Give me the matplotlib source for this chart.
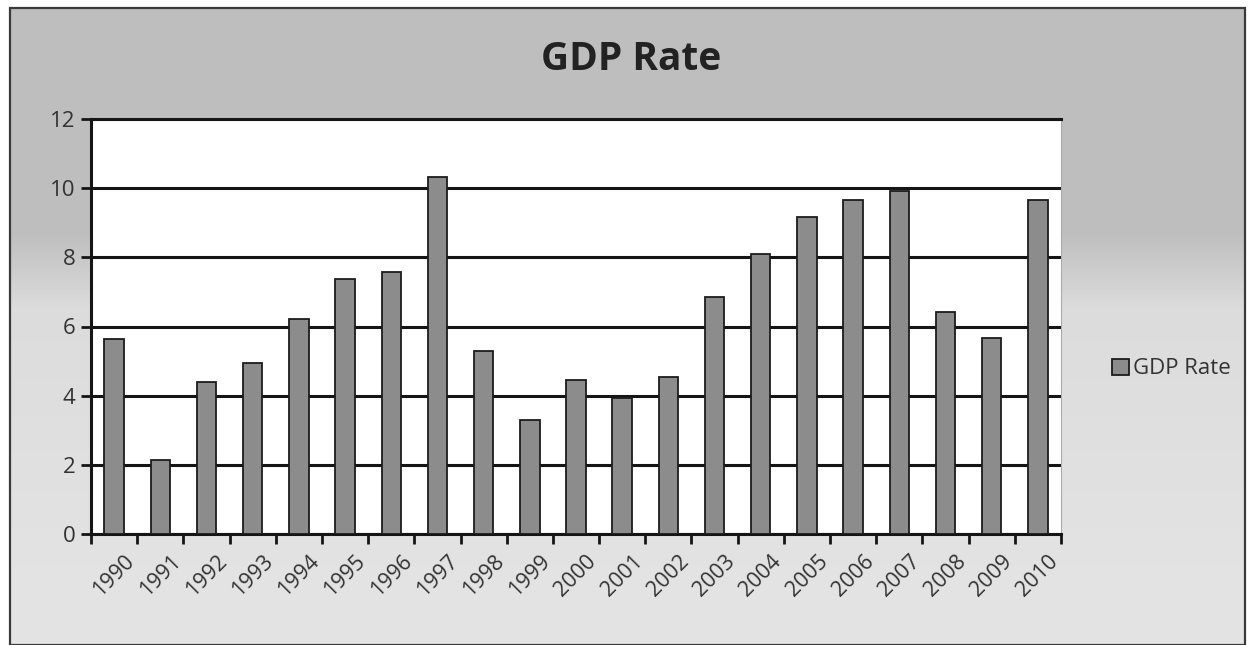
import numpy as np
import matplotlib
matplotlib.use('Agg')
import matplotlib.pyplot as plt
import matplotlib.transforms as mtransforms
from matplotlib.patches import Rectangle
from matplotlib.ticker import FixedLocator

plt.rcParams['font.family'] = ['Open Sans', 'DejaVu Sans']

# data
years = [str(y) for y in range(1990, 2011)]
gdp_rate = [5.65, 2.15, 4.4, 4.95, 6.22, 7.37, 7.58, 10.33, 5.3, 3.3, 4.45,
            3.93, 4.55, 6.86, 8.11, 9.17, 9.65, 9.92, 6.41, 5.68, 9.65]
series_name = 'GDP Rate'

W, H = 1253, 645
fig = plt.figure(figsize=(W / 100, H / 100), dpi=100)
fig.patch.set_facecolor('white')

# gray gradient backdrop inside the chart frame
bg = fig.add_axes([10 / W, 0, 1235 / W, 637 / H])
rows = np.arange(637)
shade = np.interp(rows, [0, 225, 300, 637], [0.745, 0.745, 0.86, 0.895])
grad = np.repeat(shade[:, None], 2, axis=1)
bg.imshow(grad, cmap='gray', vmin=0, vmax=1, aspect='auto', extent=[0, 1, 0, 1])
bg.set_axis_off()
fig.patches.append(Rectangle((10 / W, 0), 1235 / W, 637 / H, transform=fig.transFigure,
                             fill=False, edgecolor='#3a3a3a', linewidth=1.6, zorder=5))

# plot area
ax = fig.add_axes([91 / W, 1 - 534 / H, (1061 - 91) / W, (534 - 119) / H])
ax.set_facecolor('white')
x = np.arange(len(years))
ax.bar(x, gdp_rate, width=0.42, color='#8c8c8c', edgecolor='#1c1c1c',
       linewidth=1.3, zorder=3, label=series_name)

ax.set_xlim(-0.5, len(years) - 0.5)
ax.set_ylim(0, 12)
ax.set_yticks(range(0, 13, 2))
ax.yaxis.grid(True, color='#151515', linewidth=2.2)
ax.set_axisbelow(True)

for s in ['left', 'bottom', 'top']:
    ax.spines[s].set_color('#151515')
    ax.spines[s].set_linewidth(2.2)
ax.spines['right'].set_color('#aaaaaa')
ax.spines['right'].set_linewidth(0.8)

ax.tick_params(axis='y', direction='out', length=7, width=2, color='#151515',
               labelsize=16, labelcolor='#333333', pad=4)

# category ticks between bars, labels under bars
ax.xaxis.set_major_locator(FixedLocator(np.arange(-0.5, len(years), 1.0)))
ax.set_xticklabels([])
ax.set_xticks(x, minor=True)
ax.set_xticklabels(years, minor=True, rotation=45, ha='right', va='top',
                   rotation_mode='anchor')
ax.tick_params(axis='x', which='major', direction='out', length=7, width=2, color='#151515')
ax.tick_params(axis='x', which='minor', length=0, labelsize=15.5, labelcolor='#333333', pad=12)
shift = mtransforms.ScaledTranslation(10 / 100, 0, fig.dpi_scale_trans)
for lbl in ax.get_xticklabels(minor=True):
    lbl.set_transform(lbl.get_transform() + shift)

fig.text(631 / W, 1 - 60 / H, 'GDP Rate', ha='center', va='center',
         fontsize=28, fontweight='bold', color='#222222')

ax.legend(loc='center left', bbox_to_anchor=(1092 / W, 1 - 369 / H),
          bbox_transform=fig.transFigure, frameon=False, fontsize=16,
          handlelength=0.75, handleheight=0.75, handletextpad=0.2,
          labelcolor='#333333')

fig.savefig('out.png', dpi=100)
